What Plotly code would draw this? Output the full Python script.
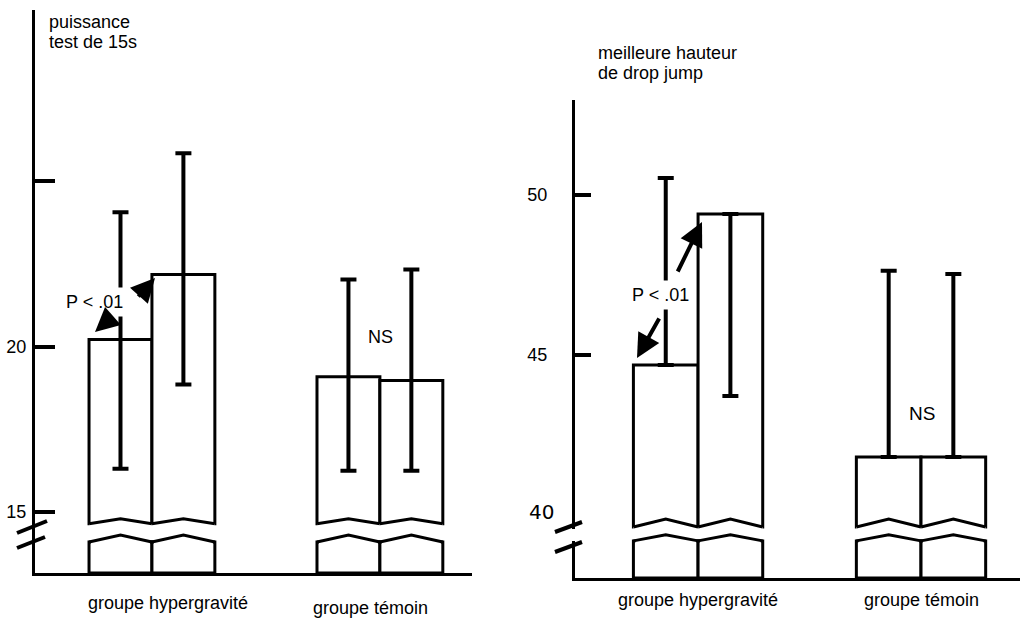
import plotly.graph_objects as go

W, H = 1020, 621
FONT = "Liberation Sans, Arial, sans-serif"

groups = ["groupe hypergravité", "groupe témoin"]
group_pos = [0, 1]

# Left panel: puissance, test de 15s (pre / post for each group)
pw_mean = [20.21, 22.18, 19.09, 18.97]
pw_err_plus = [3.85, 3.67, 2.94, 3.36]
pw_err_minus = [3.91, 3.33, 2.85, 2.73]
pw_ticks = [25, 20, 15]
pw_ticktext = ["", "20", "15"]

# Right panel: meilleure hauteur de drop jump
dj_mean = [44.69, 49.41, 41.81, 41.81]
dj_err_plus = [5.84, 0, 5.82, 5.72]
dj_err_minus = [0, 5.69, 0, 0]
dj_ticks = [50, 45]
dj_ticktext = ["50", "45"]

# ---- geometry (layout constants) ----
L = dict(xdom=(35, 472), ydom=(573, 10), xr=(-0.513, 1.404), yr=(13.15, 30.18),
         w=0.276, hi=14.64, dhi=0.15, lo=14.09, dlo=0.21)
R = dict(xdom=(575, 1020), ydom=(578, 100), xr=(-0.552, 1.444), yr=(38.03, 52.97),
         w=0.29, hi=39.625, dhi=0.25, lo=39.19, dlo=0.19)


def px(x):
    return x / W


def py(y):
    return 1 - y / H


def bar_x(w):
    xs = []
    for g in group_pos:
        xs += [g - w / 2, g + w / 2]
    return xs


fig = go.Figure()


def add_panel(cfg, means, ep, em, xa, ya):
    xs = bar_x(cfg["w"])
    base_hi = cfg["hi"]
    fig.add_trace(go.Bar(
        x=xs, y=[m - base_hi for m in means], base=base_hi, width=cfg["w"],
        marker=dict(color="white", line=dict(color="black", width=3)),
        error_y=dict(type="data", array=ep, arrayminus=em, symmetric=False,
                     color="black", thickness=4, width=8),
        xaxis=xa, yaxis=ya, showlegend=False, hoverinfo="skip"))
    ymin = cfg["yr"][0]
    fig.add_trace(go.Bar(
        x=xs, y=[cfg["lo"] - ymin] * len(xs), base=ymin, width=cfg["w"],
        marker=dict(color="white", line=dict(color="black", width=3)),
        xaxis=xa, yaxis=ya, showlegend=False, hoverinfo="skip"))
    return xs


xs_l = add_panel(L, pw_mean, pw_err_plus, pw_err_minus, "x", "y")
xs_r = add_panel(R, dj_mean, dj_err_plus, dj_err_minus, "x2", "y2")

shapes = []


def break_shapes(cfg, xs, xref, yref):
    ppu_y = (cfg["ydom"][0] - cfg["ydom"][1]) / (cfg["yr"][1] - cfg["yr"][0])
    ppu_x = (cfg["xdom"][1] - cfg["xdom"][0]) / (cfg["xr"][1] - cfg["xr"][0])
    ey, ex = 2.5 / ppu_y, 2.0 / ppu_x
    w, hi, dhi, lo, dlo = cfg["w"], cfg["hi"], cfg["dhi"], cfg["lo"], cfg["dlo"]
    for c in xs:
        l, r = c - w / 2, c + w / 2
        shapes.append(dict(type="path", xref=xref, yref=yref, layer="above",
                           path=f"M{l},{hi-ey} L{l},{hi} L{c},{hi+dhi} L{r},{hi} L{r},{hi-ey} Z",
                           fillcolor="white", line=dict(width=0)))
        shapes.append(dict(type="path", xref=xref, yref=yref, layer="above",
                           path=f"M{l},{hi} L{c},{hi+dhi} L{r},{hi}",
                           line=dict(color="black", width=3)))
        shapes.append(dict(type="path", xref=xref, yref=yref, layer="above",
                           path=f"M{l+ex},{lo-ey} L{l+ex},{lo} L{c},{lo+dlo} L{r-ex},{lo} L{r-ex},{lo-ey} Z",
                           fillcolor="white", line=dict(width=0)))
        shapes.append(dict(type="path", xref=xref, yref=yref, layer="above",
                           path=f"M{l},{lo} L{c},{lo+dlo} L{r},{lo}",
                           line=dict(color="black", width=3)))


break_shapes(L, xs_l, "x", "y")
break_shapes(R, xs_r, "x2", "y2")

# gap in right axis + axis break marks
shapes.append(dict(type="line", xref="paper", yref="paper", x0=px(575), x1=px(575),
                   y0=py(529), y1=py(541), line=dict(color="white", width=6)))
for (x0, y0, x1, y1) in [(17, 533, 47, 521), (17, 548, 45, 537),
                         (555, 532, 582, 522), (555, 552, 582, 542)]:
    shapes.append(dict(type="line", xref="paper", yref="paper", x0=px(x0), y0=py(y0),
                       x1=px(x1), y1=py(y1), line=dict(color="black", width=4)))

ann = []
tf = dict(family=FONT, size=18, color="black")


def label(text, x, y, xref="paper", **kw):
    d = dict(text=text, x=x, y=py(y), xref=xref, yref="paper", showarrow=False,
             font=tf, xanchor="center", yanchor="middle")
    d.update(kw)
    ann.append(d)


# titles (one annotation per line, left aligned)
label("puissance", px(47), 22, xanchor="left")
label("test de 15s", px(47), 42, xanchor="left")
label("meilleure hauteur", px(596), 53, xanchor="left")
label("de drop jump", px(596), 73, xanchor="left")
# group labels
label(groups[0], 0.07, 603, xref="x")
label(groups[1], 0.96, 608, xref="x")
label(groups[0], group_pos[0], 600, xref="x2")
label(groups[1], group_pos[1], 600, xref="x2")
# significance
label("P < .01", px(94), 302, bgcolor="white", borderpad=4)
label("P < .01", px(660), 295, bgcolor="white", borderpad=4)
label("NS", px(380), 337)
label("NS", px(922), 413, font=dict(family=FONT, size=19, color="black"))
label("40", px(541), 512, font=dict(family="DejaVu Sans, sans-serif", size=20, color="black"))

# arrows (tip, tail in px)
for (hx, hy, tx, ty) in [(95, 332, 112, 317), (155, 278, 137, 298),
                         (637, 358, 660, 317), (702, 222, 677, 273)]:
    ann.append(dict(text="", x=px(hx), y=py(hy), xref="paper", yref="paper",
                    ax=tx - hx, ay=ty - hy, showarrow=True, arrowhead=2,
                    arrowsize=1.2, arrowwidth=4, arrowcolor="black"))

axis_common = dict(showgrid=False, zeroline=False, showline=True, linecolor="black",
                   linewidth=3, automargin=False)

fig.update_layout(
    width=W, height=H, margin=dict(l=0, r=0, t=0, b=0, pad=0),
    paper_bgcolor="white", plot_bgcolor="white", barmode="overlay",
    font=dict(family=FONT, size=18, color="black"),
    shapes=shapes, annotations=ann,
    xaxis=dict(domain=[px(L["xdom"][0]), px(L["xdom"][1])], range=list(L["xr"]),
               showticklabels=False, ticks="", anchor="y", **axis_common),
    yaxis=dict(domain=[py(L["ydom"][0]), py(L["ydom"][1])], range=list(L["yr"]),
               tickvals=pw_ticks, ticktext=pw_ticktext, ticks="inside", ticklen=20,
               tickwidth=4, tickcolor="black", ticklabelstandoff=2,
               tickfont=dict(family=FONT, size=18), anchor="x", **axis_common),
    xaxis2=dict(domain=[px(R["xdom"][0]), 1.0], range=list(R["xr"]),
                showticklabels=False, ticks="", anchor="y2", **axis_common),
    yaxis2=dict(domain=[py(R["ydom"][0]), py(R["ydom"][1])], range=list(R["yr"]),
                tickvals=dj_ticks, ticktext=dj_ticktext, ticks="inside", ticklen=16,
                tickwidth=4, tickcolor="black", ticklabelstandoff=21,
                tickfont=dict(family=FONT, size=18), anchor="x2", **axis_common),
)

fig.write_html("out.html", config={"displayModeBar": False},
               post_script="document.body.style.margin='0px';document.body.style.overflow='hidden';")
